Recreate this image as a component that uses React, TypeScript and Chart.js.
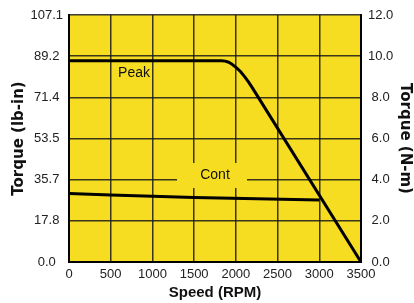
import React, { useEffect, useRef } from "react";
import { Chart, registerables } from "chart.js";

Chart.register(...registerables);

const speedTicks = [0, 500, 1000, 1500, 2000, 2500, 3000, 3500];
const leftTickLabels = ["0.0", "17.8", "35.7", "53.5", "71.4", "89.2", "107.1"];
const rightTickLabels = ["0.0", "2.0", "4.0", "6.0", "8.0", "10.0", "12.0"];

const peakRpm = [0, 1830, 1872, 1915, 1959, 2005, 2052, 2100, 2149, 2200, 3500];
const peakTorque = [87.3, 87.3, 87.1, 86.6, 85.6, 84.3, 82.7, 80.6, 78.2, 75.4, 0];

const contRpm = [0, 500, 1500, 3000];
const contTorque = [29.7, 29.0, 28.0, 26.9];

const peakLabel = { text: "Peak", rpm: 780, torque: 82 };
const contLabel = { text: "Cont", rpm: 1750, torque: 37.5 };

const LEFT_MAX = 107.1;
const RIGHT_MAX = 12;

const FONT = "'Liberation Sans', Arial, sans-serif";
const TITLE_FONT = "'DejaVu Sans', sans-serif";

export default function App() {
  const ref = useRef<HTMLCanvasElement | null>(null);

  useEffect(() => {
    if (!ref.current) return;
    const bgPlugin = {
      id: "bg",
      beforeDraw(chart: any) {
        const { ctx, chartArea } = chart;
        ctx.save();
        ctx.fillStyle = "#F6DD22";
        ctx.fillRect(chartArea.left, chartArea.top, chartArea.right - chartArea.left, chartArea.bottom - chartArea.top);
        ctx.restore();
      },
      beforeDatasetsDraw(chart: any) {
        const { ctx, scales } = chart;
        const x = scales.x;
        const y = scales.y;
        ctx.save();
        ctx.font = `14px ${FONT}`;
        ctx.textAlign = "center";
        ctx.textBaseline = "middle";
        const cx = x.getPixelForValue(contLabel.rpm);
        const cy = y.getPixelForValue(contLabel.torque);
        ctx.fillStyle = "#F6DD22";
        ctx.fillRect(cx - 38, cy - 12.5, 70, 25);
        ctx.fillStyle = "#111";
        ctx.fillText(contLabel.text, cx, cy);
        const px = x.getPixelForValue(peakLabel.rpm);
        const py = y.getPixelForValue(peakLabel.torque);
        ctx.fillText(peakLabel.text, px, py);
        ctx.restore();
      },
    };

    const chart = new Chart(ref.current, {
      type: "scatter",
      data: {
        datasets: [
          {
            label: "Peak",
            data: peakRpm.map((r, i) => ({ x: r, y: peakTorque[i] })),
            showLine: true,
            borderColor: "#000",
            borderWidth: 3,
            pointRadius: 0,
            tension: 0,
            borderJoinStyle: "round",
            fill: false,
          },
          {
            label: "Cont",
            data: contRpm.map((r, i) => ({ x: r, y: contTorque[i] })),
            showLine: true,
            borderColor: "#000",
            borderWidth: 3,
            pointRadius: 0,
            tension: 0,
            fill: false,
          },
        ],
      },
      options: {
        animation: false,
        responsive: false,
        maintainAspectRatio: false,
        layout: { padding: { top: 15, left: 0, right: 0, bottom: 0 } },
        plugins: { legend: { display: false }, tooltip: { enabled: false } },
        scales: {
          x: {
            type: "linear",
            min: 0,
            max: 3500,
            afterBuildTicks: (s: any) => {
              s.ticks = speedTicks.map((v) => ({ value: v }));
            },
            afterFit: (s: any) => {
              s.height = 41;
            },
            ticks: {
              padding: 5,
              color: "#222",
              font: { family: FONT, size: 13 },
              callback: (v: any) => String(v),
            },
            grid: { color: "rgba(25,25,25,0.85)", lineWidth: 1.5, drawTicks: false },
            border: { color: "#000", width: 2 },
            title: {
              display: true,
              text: "Speed (RPM)",
              color: "#111",
              font: { family: FONT, size: 15, weight: "bold" },
              padding: { top: 0, bottom: 1 },
            },
          },
          y: {
            type: "linear",
            position: "left",
            min: 0,
            max: LEFT_MAX,
            afterBuildTicks: (s: any) => {
              s.ticks = leftTickLabels.map((_, i) => ({ value: (LEFT_MAX * i) / 6 }));
            },
            afterFit: (s: any) => {
              s.width = 69;
            },
            ticks: {
              padding: 6,
              crossAlign: "center",
              color: "#222",
              font: { family: FONT, size: 13 },
              callback: (_v: any, i: number) => leftTickLabels[i],
            },
            grid: { color: "rgba(25,25,25,0.85)", lineWidth: 1.5, drawTicks: false },
            border: { color: "#000", width: 2 },
            title: {
              display: true,
              text: "Torque (lb-in)",
              color: "#111",
              font: { family: TITLE_FONT, size: 15, weight: "bold" },
              padding: { top: 10, bottom: 0 },
            },
          },
          y1: {
            type: "linear",
            position: "right",
            min: 0,
            max: RIGHT_MAX,
            afterBuildTicks: (s: any) => {
              s.ticks = rightTickLabels.map((_, i) => ({ value: (RIGHT_MAX * i) / 6 }));
            },
            afterFit: (s: any) => {
              s.width = 53;
            },
            ticks: {
              padding: 7,
              crossAlign: "center",
              color: "#222",
              font: { family: FONT, size: 13 },
              callback: (_v: any, i: number) => rightTickLabels[i],
            },
            grid: { display: false, drawTicks: false },
            border: { color: "#000", width: 2 },
            title: {
              display: true,
              text: "Torque (N-m)",
              color: "#111",
              font: { family: TITLE_FONT, size: 15, weight: "bold" },
              padding: { top: 0, bottom: 0 },
            },
          },
        },
      },
      plugins: [bgPlugin],
    });
    return () => chart.destroy();
  }, []);

  return (
    <div style={{ position: "fixed", left: 0, top: 0, width: 414, height: 303, background: "#fff" }}>
      <canvas ref={ref} width={414} height={303} style={{ width: 414, height: 303, display: "block" }} />
    </div>
  );
}
